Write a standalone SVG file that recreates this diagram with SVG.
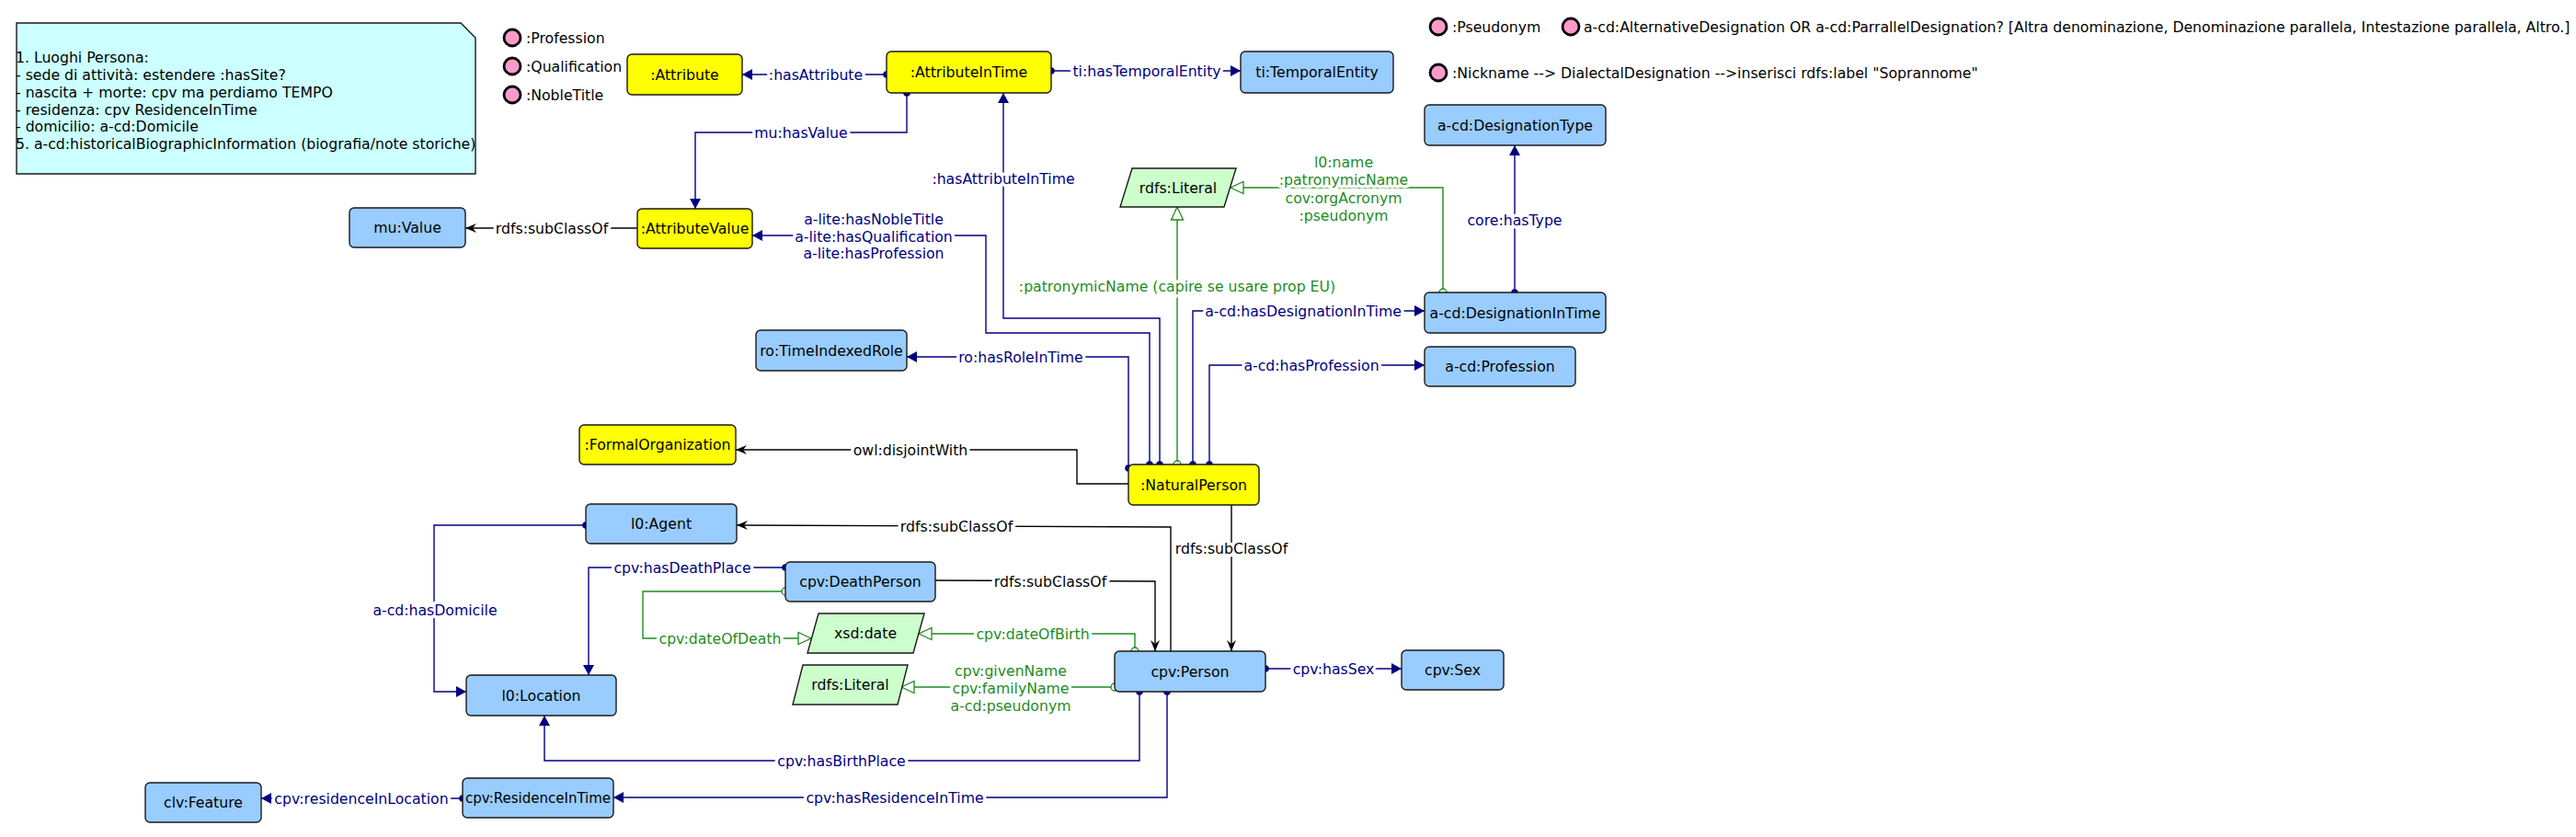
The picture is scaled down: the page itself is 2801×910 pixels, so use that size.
<svg xmlns="http://www.w3.org/2000/svg" width="2801" height="910" viewBox="0 0 2801 910">
<style>
text{font-family:"DejaVu Sans","Liberation Sans",sans-serif;font-size:15.7px;dominant-baseline:central}
.node rect,.node polygon{stroke:#1a1a1a;stroke-width:1.4}
.y{fill:#ffff00}.b{fill:#99ccff}.g{fill:#ccffcc}
.c{text-anchor:middle;fill:#000}
.e{fill:none;stroke-width:1.4}
.eN{stroke:#000080}.eK{stroke:#000}.eG{stroke:#1e8c1e}
.l{text-anchor:middle;stroke:#fff;stroke-width:7;stroke-linejoin:round;paint-order:stroke}
.lN{fill:#000080}.lK{fill:#000}.lG{fill:#1e8c1e}
.leg{fill:#ff99cc;stroke:#000;stroke-width:2.8}
</style>
<defs>
<marker id="aN" viewBox="-12 -7 13 14" refX="0" refY="0" markerWidth="13" markerHeight="14" markerUnits="userSpaceOnUse" orient="auto"><path d="M0,0 L-11,-6 L-11,6 Z" fill="#000080"/></marker>
<marker id="dN" viewBox="-5 -5 10 10" refX="0" refY="0" markerWidth="10" markerHeight="10" markerUnits="userSpaceOnUse"><circle r="3.8" fill="#000080"/></marker>
<marker id="aK" viewBox="-13 -6 14 12" refX="0" refY="0" markerWidth="14" markerHeight="12" markerUnits="userSpaceOnUse" orient="auto"><path d="M0,0 L-12,-5 L-8,0 L-12,5 Z" fill="#000"/></marker>
<marker id="tG" viewBox="-16 -8 17 16" refX="0" refY="0" markerWidth="17" markerHeight="16" markerUnits="userSpaceOnUse" orient="auto"><path d="M0,0 L-14,-6.5 L-14,6.5 Z" fill="#fff" stroke="#1e8c1e" stroke-width="1.3"/></marker>
<marker id="oG" viewBox="-6 -6 12 12" refX="0" refY="0" markerWidth="12" markerHeight="12" markerUnits="userSpaceOnUse"><circle r="4" fill="#fff" stroke="#1e8c1e" stroke-width="1.3"/></marker>
</defs>
<rect width="2801" height="910" fill="#fff"/>

<g id="note">
<path d="M18,25 L501,25 L517,41 L517,189 L18,189 Z" fill="#ccffff" stroke="#1a1a1a" stroke-width="1.4"/>
<path d="M501,25 L517,41" fill="none" stroke="#1a1a1a" stroke-width="1"/>
<text x="17" y="62">1. Luoghi Persona:</text>
<text x="17" y="81">- sede di attività: estendere :hasSite?</text>
<text x="17" y="100">- nascita + morte: cpv ma perdiamo TEMPO</text>
<text x="17" y="119">- residenza: cpv ResidenceInTime</text>
<text x="17" y="137">- domicilio: a-cd:Domicile</text>
<text x="17" y="156">5. a-cd:historicalBiographicInformation (biografia/note storiche)</text>
</g>

<g id="legend">
<circle class="leg" cx="557" cy="41" r="9"/><text x="572" y="41">:Profession</text>
<circle class="leg" cx="557" cy="72" r="9"/><text x="572" y="72">:Qualification</text>
<circle class="leg" cx="557" cy="103" r="9"/><text x="572" y="103">:NobleTitle</text>
<circle class="leg" cx="1564" cy="29" r="9"/><text x="1579" y="29">:Pseudonym</text>
<circle class="leg" cx="1708" cy="29" r="9"/><text x="1722" y="29">a-cd:AlternativeDesignation OR a-cd:ParrallelDesignation? [Altra denominazione, Denominazione parallela, Intestazione parallela, Altro.]</text>
<circle class="leg" cx="1564" cy="79" r="9"/><text x="1579" y="79">:Nickname --&gt; DialectalDesignation --&gt;inserisci rdfs:label "Soprannome"</text>
</g>

<g id="connectors">
<path class="e eN" d="M964,81 L807,81" marker-start="url(#dN)" marker-end="url(#aN)"/>
<path class="e eN" d="M1143,77 L1349,77" marker-start="url(#dN)" marker-end="url(#aN)"/>
<path class="e eN" d="M986,101 L986,144 L756,144 L756,227" marker-start="url(#dN)" marker-end="url(#aN)"/>
<path class="e eN" d="M1250,505 L1250,362 L1072,362 L1072,256 L818,256" marker-start="url(#dN)" marker-end="url(#aN)"/>
<path class="e eN" d="M1261,505 L1261,346 L1091,346 L1091,101" marker-start="url(#dN)" marker-end="url(#aN)"/>
<path class="e eN" d="M1227,509 L1227,388 L986,388" marker-start="url(#dN)" marker-end="url(#aN)"/>
<path class="e eN" d="M1297,505 L1297,338 L1549,338" marker-start="url(#dN)" marker-end="url(#aN)"/>
<path class="e eN" d="M1315,505 L1315,397 L1549,397" marker-start="url(#dN)" marker-end="url(#aN)"/>
<path class="e eN" d="M1647,318 L1647,158" marker-start="url(#dN)" marker-end="url(#aN)"/>
<path class="e eN" d="M854,617 L640,617 L640,734" marker-start="url(#dN)" marker-end="url(#aN)"/>
<path class="e eN" d="M637,571 L472,571 L472,752 L507,752" marker-start="url(#dN)" marker-end="url(#aN)"/>
<path class="e eN" d="M1376,727 L1524,727" marker-start="url(#dN)" marker-end="url(#aN)"/>
<path class="e eN" d="M1239,752 L1239,827 L592,827 L592,778" marker-start="url(#dN)" marker-end="url(#aN)"/>
<path class="e eN" d="M1269,752 L1269,867 L667,867" marker-start="url(#dN)" marker-end="url(#aN)"/>
<path class="e eN" d="M503,868 L284,868" marker-start="url(#dN)" marker-end="url(#aN)"/>

<path class="e eK" d="M693,248 L506,248" marker-end="url(#aK)"/>
<path class="e eK" d="M1227,526 L1171,526 L1171,489 L800,489" marker-end="url(#aK)"/>
<path class="e eK" d="M1273,708 L1273,573 L801,571" marker-end="url(#aK)"/>
<path class="e eK" d="M1017,631 L1256,632 L1256,708" marker-end="url(#aK)"/>
<path class="e eK" d="M1339,549 L1339,708" marker-end="url(#aK)"/>

<path class="e eG" d="M1569,318 L1569,204 L1338,204" marker-start="url(#oG)" marker-end="url(#tG)"/>
<path class="e eG" d="M1280,505 L1280,225" marker-start="url(#oG)" marker-end="url(#tG)"/>
<path class="e eG" d="M854,643 L699,643 L699,694 L882,694" marker-start="url(#oG)" marker-end="url(#tG)"/>
<path class="e eG" d="M1234,708 L1234,689 L999,689" marker-start="url(#oG)" marker-end="url(#tG)"/>
<path class="e eG" d="M1212,747 L980,747" marker-start="url(#oG)" marker-end="url(#tG)"/>

<text class="l lN" x="887" y="81">:hasAttribute</text>
<text class="l lN" x="1247" y="77">ti:hasTemporalEntity</text>
<text class="l lN" x="871" y="144">mu:hasValue</text>
<text class="l lN" x="950" y="238">a-lite:hasNobleTitle</text>
<text class="l lN" x="950" y="257">a-lite:hasQualification</text>
<text class="l lN" x="950" y="275">a-lite:hasProfession</text>
<text class="l lN" x="1091" y="194">:hasAttributeInTime</text>
<text class="l lN" x="1110" y="388">ro:hasRoleInTime</text>
<text class="l lN" x="1417" y="338">a-cd:hasDesignationInTime</text>
<text class="l lN" x="1426" y="397">a-cd:hasProfession</text>
<text class="l lN" x="1647" y="239">core:hasType</text>
<text class="l lN" x="742" y="617">cpv:hasDeathPlace</text>
<text class="l lN" x="473" y="663">a-cd:hasDomicile</text>
<text class="l lN" x="1450" y="727">cpv:hasSex</text>
<text class="l lN" x="915" y="827">cpv:hasBirthPlace</text>
<text class="l lN" x="973" y="867">cpv:hasResidenceInTime</text>
<text class="l lN" x="393" y="868">cpv:residenceInLocation</text>
<text class="l lK" x="600" y="248">rdfs:subClassOf</text>
<text class="l lK" x="990" y="489">owl:disjointWith</text>
<text class="l lK" x="1040" y="572">rdfs:subClassOf</text>
<text class="l lK" x="1142" y="632">rdfs:subClassOf</text>
<text class="l lK" x="1339" y="596">rdfs:subClassOf</text>
<text class="l lG" x="1461" y="176">l0:name</text>
<text class="l lG" x="1461" y="195">:patronymicName</text>
<text class="l lG" x="1461" y="215">cov:orgAcronym</text>
<text class="l lG" x="1461" y="234">:pseudonym</text>
<text class="l lG" x="1280" y="311">:patronymicName (capire se usare prop EU)</text>
<text class="l lG" x="783" y="694">cpv:dateOfDeath</text>
<text class="l lG" x="1123" y="689">cpv:dateOfBirth</text>
<text class="l lG" x="1099" y="729">cpv:givenName</text>
<text class="l lG" x="1099" y="748">cpv:familyName</text>
<text class="l lG" x="1099" y="767">a-cd:pseudonym</text>
</g>

<g id="n-attribute" class="node"><rect class="y" x="682" y="59" width="125" height="44" rx="5"/><text class="c" x="744.5" y="81">:Attribute</text></g>
<g id="n-attributeInTime" class="node"><rect class="y" x="964" y="56" width="179" height="45" rx="5"/><text class="c" x="1053.5" y="78.5">:AttributeInTime</text></g>
<g id="n-temporalEntity" class="node"><rect class="b" x="1349" y="56" width="166" height="45" rx="5"/><text class="c" x="1432" y="78.5">ti:TemporalEntity</text></g>
<g id="n-attributeValue" class="node"><rect class="y" x="693" y="227" width="125" height="43" rx="5"/><text class="c" x="755.5" y="248.5">:AttributeValue</text></g>
<g id="n-muValue" class="node"><rect class="b" x="380" y="226" width="126" height="43" rx="5"/><text class="c" x="443" y="247.5">mu:Value</text></g>
<g id="n-literalTop" class="node"><polygon class="g" points="1231,183 1344,183 1331,225 1218,225"/><text class="c" x="1281" y="204">rdfs:Literal</text></g>
<g id="n-designationType" class="node"><rect class="b" x="1549" y="114" width="197" height="44" rx="5"/><text class="c" x="1647.5" y="136">a-cd:DesignationType</text></g>
<g id="n-designationInTime" class="node"><rect class="b" x="1549" y="318" width="197" height="44" rx="5"/><text class="c" x="1647.5" y="340">a-cd:DesignationInTime</text></g>
<g id="n-profession" class="node"><rect class="b" x="1549" y="377" width="164" height="43" rx="5"/><text class="c" x="1631" y="398.5">a-cd:Profession</text></g>
<g id="n-timeIndexedRole" class="node"><rect class="b" x="822" y="359" width="164" height="44" rx="5"/><text class="c" x="904" y="381">ro:TimeIndexedRole</text></g>
<g id="n-formalOrganization" class="node"><rect class="y" x="630" y="462" width="170" height="43" rx="5"/><text class="c" x="715" y="483.5">:FormalOrganization</text></g>
<g id="n-naturalPerson" class="node"><rect class="y" x="1227" y="505" width="142" height="44" rx="5"/><text class="c" x="1298" y="527">:NaturalPerson</text></g>
<g id="n-agent" class="node"><rect class="b" x="637" y="548" width="164" height="43" rx="5"/><text class="c" x="719" y="569.5">l0:Agent</text></g>
<g id="n-deathPerson" class="node"><rect class="b" x="854" y="611" width="163" height="43" rx="5"/><text class="c" x="935.5" y="632.5">cpv:DeathPerson</text></g>
<g id="n-xsdDate" class="node"><polygon class="g" points="890,667 1005,667 993,710 878,710"/><text class="c" x="941" y="688.5">xsd:date</text></g>
<g id="n-literalBottom" class="node"><polygon class="g" points="873,723 987,723 976,766 862,766"/><text class="c" x="924.5" y="744.5">rdfs:Literal</text></g>
<g id="n-person" class="node"><rect class="b" x="1212" y="708" width="164" height="44" rx="5"/><text class="c" x="1294" y="730">cpv:Person</text></g>
<g id="n-sex" class="node"><rect class="b" x="1524" y="707" width="111" height="43" rx="5"/><text class="c" x="1579.5" y="728.5">cpv:Sex</text></g>
<g id="n-location" class="node"><rect class="b" x="507" y="734" width="163" height="44" rx="5"/><text class="c" x="588.5" y="756">l0:Location</text></g>
<g id="n-residenceInTime" class="node"><rect class="b" x="503" y="846" width="164" height="43" rx="5"/><text class="c" x="585" y="867.5" style="font-size:15px">cpv:ResidenceInTime</text></g>
<g id="n-feature" class="node"><rect class="b" x="158" y="851" width="126" height="43" rx="5"/><text class="c" x="221" y="872.5">clv:Feature</text></g>
</svg>
